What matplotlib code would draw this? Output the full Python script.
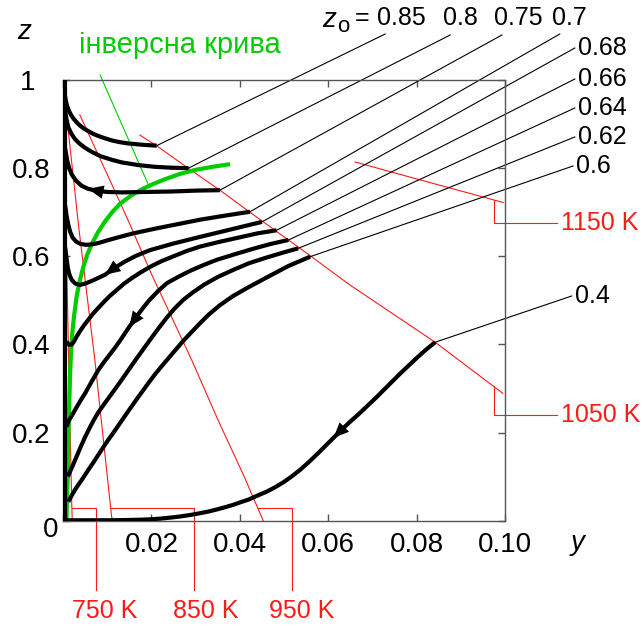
import numpy as np
import matplotlib.pyplot as plt

plt.rcParams['font.family'] = ['Liberation Sans', 'DejaVu Sans']

# trajectories; each starts on the 1050 K line
z0_labels = ['0.85', '0.8', '0.75', '0.7', '0.68', '0.66', '0.64', '0.62', '0.6', '0.4']

y_085 = [0.0212, 0.0180, 0.0148, 0.0128, 0.0110, 0.0094, 0.0080, 0.0068, 0.0057, 0.0047, 0.0038,
         0.0031, 0.0024, 0.0018, 0.0013, 0.0009, 0.0006, 0.0004, 0.0002]
z_085 = [0.851, 0.853, 0.856, 0.859, 0.863, 0.868, 0.873, 0.878, 0.884, 0.890, 0.897,
         0.904, 0.912, 0.921, 0.931, 0.942, 0.955, 0.968, 0.985]

y_080 = [0.0284, 0.0245, 0.0208, 0.0170, 0.0133, 0.0110, 0.0085, 0.0065, 0.0050, 0.0037,
         0.0027, 0.0019, 0.0012, 0.0008, 0.0005, 0.0003]
z_080 = [0.800, 0.801, 0.803, 0.807, 0.813, 0.819, 0.827, 0.837, 0.846, 0.856,
         0.866, 0.878, 0.893, 0.910, 0.930, 0.950]

y_075 = [0.0355, 0.0300, 0.0246, 0.0190, 0.0133, 0.0100, 0.0080, 0.0057, 0.0042, 0.0030,
         0.0020, 0.0014, 0.0010, 0.0007, 0.0004]
z_075 = [0.750, 0.749, 0.747, 0.746, 0.745, 0.746, 0.748, 0.753, 0.760, 0.771,
         0.785, 0.800, 0.815, 0.832, 0.850]

y_070 = [0.0423, 0.0365, 0.0310, 0.0260, 0.0210, 0.0159, 0.0125, 0.0100, 0.0080, 0.0065,
         0.0052, 0.0040, 0.0030, 0.0022, 0.0016, 0.0012, 0.0008, 0.0005]
z_070 = [0.701, 0.692, 0.683, 0.673, 0.663, 0.652, 0.643, 0.636, 0.630, 0.627,
         0.626, 0.628, 0.633, 0.642, 0.656, 0.672, 0.692, 0.715]

y_068 = [0.0450, 0.0380, 0.0310, 0.0250, 0.0197, 0.0165, 0.0140, 0.0114, 0.0095, 0.0080,
         0.0065, 0.0050, 0.0038, 0.0028, 0.0020, 0.0015, 0.0011, 0.0008, 0.0005]
z_068 = [0.678, 0.661, 0.644, 0.629, 0.614, 0.601, 0.588, 0.572, 0.558, 0.551,
         0.544, 0.538, 0.535, 0.538, 0.546, 0.557, 0.573, 0.595, 0.620]

y_066 = [0.0483, 0.0440, 0.0400, 0.0355, 0.0310, 0.0280, 0.0250, 0.0223, 0.0197, 0.0175,
         0.0155, 0.0137, 0.0121, 0.0106, 0.0093, 0.0080, 0.0069, 0.0058, 0.0048, 0.0039,
         0.0031, 0.0025, 0.0020, 0.0014, 0.0008]
z_066 = [0.659, 0.652, 0.643, 0.633, 0.622, 0.612, 0.600, 0.589, 0.576, 0.563,
         0.550, 0.537, 0.523, 0.510, 0.497, 0.483, 0.471, 0.457, 0.444, 0.431,
         0.418, 0.407, 0.400, 0.399, 0.406]

y_064 = [0.0510, 0.0470, 0.0430, 0.0390, 0.0348, 0.0320, 0.0290, 0.0262, 0.0235, 0.0215,
         0.0195, 0.0182, 0.0170, 0.0160, 0.0150, 0.0140, 0.0130, 0.0118, 0.0105, 0.0092,
         0.0080, 0.0065, 0.0050, 0.0038, 0.0027, 0.0018, 0.0012, 0.0008]
z_064 = [0.637, 0.628, 0.617, 0.605, 0.592, 0.581, 0.568, 0.554, 0.539, 0.521,
         0.500, 0.484, 0.468, 0.454, 0.440, 0.425, 0.410, 0.393, 0.376, 0.359,
         0.342, 0.316, 0.289, 0.270, 0.251, 0.235, 0.225, 0.213]

y_062 = [0.0532, 0.0500, 0.0460, 0.0420, 0.0385, 0.0350, 0.0320, 0.0295, 0.0272, 0.0252,
         0.0235, 0.0218, 0.0201, 0.0183, 0.0165, 0.0149, 0.0133, 0.0118, 0.0105, 0.0092,
         0.0080, 0.0070, 0.0060, 0.0050, 0.0042, 0.0033, 0.0025, 0.0018, 0.0011]
z_062 = [0.618, 0.609, 0.597, 0.584, 0.569, 0.553, 0.536, 0.519, 0.501, 0.481,
         0.461, 0.439, 0.416, 0.391, 0.366, 0.343, 0.320, 0.299, 0.281, 0.263,
         0.246, 0.229, 0.210, 0.190, 0.172, 0.151, 0.132, 0.116, 0.100]

y_060 = [0.0559, 0.0510, 0.0461, 0.0420, 0.0385, 0.0355, 0.0330, 0.0308, 0.0289, 0.0272,
         0.0255, 0.0238, 0.0222, 0.0208, 0.0193, 0.0180, 0.0167, 0.0155, 0.0141, 0.0128,
         0.0115, 0.0102, 0.0090, 0.0079, 0.0068, 0.0057, 0.0048, 0.0040, 0.0033, 0.0027,
         0.0019, 0.0012]
z_060 = [0.599, 0.578, 0.552, 0.530, 0.510, 0.489, 0.468, 0.446, 0.426, 0.408,
         0.388, 0.368, 0.349, 0.332, 0.312, 0.294, 0.276, 0.259, 0.239, 0.220,
         0.201, 0.183, 0.165, 0.148, 0.131, 0.115, 0.101, 0.089, 0.079, 0.070,
         0.056, 0.043]

y_040 = [0.0842, 0.0820, 0.0800, 0.0781, 0.0762, 0.0743, 0.0725, 0.0706, 0.0687, 0.0668,
         0.0650, 0.0631, 0.0612, 0.0593, 0.0575, 0.0555, 0.0536, 0.0518, 0.0500, 0.0480,
         0.0461, 0.0440, 0.0420, 0.0402, 0.0385, 0.0368, 0.0350, 0.0330, 0.0310, 0.0288,
         0.0265, 0.0243, 0.0220, 0.0200, 0.0180, 0.0144, 0.0100, 0.0050, 0.0005]
z_040 = [0.405, 0.387, 0.369, 0.351, 0.333, 0.314, 0.296, 0.277, 0.259, 0.241,
         0.225, 0.207, 0.188, 0.169, 0.151, 0.132, 0.115, 0.101, 0.088, 0.076,
         0.066, 0.057, 0.048, 0.042, 0.036, 0.031, 0.026, 0.021, 0.017, 0.013,
         0.0096, 0.007, 0.0047, 0.0033, 0.0024, 0.0015, 0.001, 0.001, 0.001]

curves_y = [y_085, y_080, y_075, y_070, y_068, y_066, y_064, y_062, y_060, y_040]
curves_z = [z_085, z_080, z_075, z_070, z_068, z_066, z_064, z_062, z_060, z_040]

# index of the point where an arrow head sits
arrow_at = {'0.75': 7, '0.68': 8, '0.64': 14, '0.4': 12}

# trajectory running along the z axis
y_axis_path = [0.0004, 0.0004]
z_axis_path = [0.0, 0.995]

# inversion curve
y_inv = [0.0008, 0.0009, 0.0011, 0.0012, 0.0014, 0.0016, 0.0018, 0.0021, 0.0025, 0.0031,
         0.0038, 0.0046, 0.0055, 0.0065, 0.0080, 0.0095, 0.0112, 0.0130, 0.0153, 0.0178,
         0.0204, 0.0231, 0.0265, 0.0299, 0.0338, 0.0378]
z_inv = [0.0, 0.05, 0.108, 0.180, 0.259, 0.330, 0.380, 0.425, 0.465, 0.510,
         0.545, 0.576, 0.604, 0.628, 0.656, 0.679, 0.701, 0.720, 0.737, 0.752,
         0.764, 0.775, 0.787, 0.796, 0.803, 0.809]

# isotherms
iso_labels = ['750 K', '850 K', '950 K', '1050 K', '1150 K']
y_750 = [0.0002, 0.0008, 0.0014, 0.0020, 0.0021]
z_750 = [0.966, 0.600, 0.300, 0.029, 0.0]
y_850 = [0.0008, 0.0035, 0.0072, 0.0110, 0.0113]
z_850 = [0.921, 0.671, 0.365, 0.009, 0.0]
y_950 = [0.0038, 0.0106, 0.0152, 0.0200, 0.0291, 0.0350, 0.0410, 0.0453]
z_950 = [0.921, 0.773, 0.671, 0.560, 0.365, 0.230, 0.100, 0.0]
y_1050 = [0.0174, 0.0213, 0.0283, 0.0355, 0.0423, 0.0561, 0.0649, 0.0842, 0.0995]
z_1050 = [0.875, 0.850, 0.800, 0.750, 0.700, 0.600, 0.535, 0.405, 0.289]
y_1150 = [0.0661, 0.0740, 0.0868, 0.0996]
z_1150 = [0.814, 0.792, 0.757, 0.722]

# where the z0 labels sit (outside the plot, data units)
lab_y = [0.0729, 0.0876, 0.0993, 0.1124, 0.1158, 0.1158, 0.1158, 0.1158, 0.1154, 0.1151]
lab_z = [1.1044, 1.1021, 1.1021, 1.1044, 1.0726, 1.0023, 0.9365, 0.8707, 0.8049, 0.5099]
top_text_y = [0.0710, 0.0860, 0.0975, 0.1106]

fig = plt.figure(figsize=(6.43, 6.26), dpi=100)
ax = fig.add_axes([63 / 643, 1 - 520.7 / 626, 442 / 643, 440.7 / 626])
ax.set_xlim(0, 0.1)
ax.set_ylim(0, 1)

fs = 18
tfs = 20
red = '#ff1a1a'
green = '#00cc00'

# isotherms
for yy, zz in [(y_750, z_750), (y_850, z_850), (y_950, z_950), (y_1050, z_1050), (y_1150, z_1150)]:
    ax.plot(yy, zz, color=red, lw=0.8, clip_on=False)

# bottom isotherm labels with bracket leaders
zb = 0.0281
bottom_iso = [(y_750, z_750, 0.0074, 0.0094), (y_850, z_850, 0.0297, 0.0322),
              (y_950, z_950, 0.0519, 0.0541)]
for (yy, zz, xv, xt), lab in zip(bottom_iso, iso_labels[:3]):
    start = np.interp(zb, zz[::-1], yy[::-1])
    ax.plot([start, xv, xv], [zb, zb, -0.157], color=red, lw=0.8, clip_on=False)
    ax.text(xt, -0.205, lab, color=red, fontsize=fs, ha='center', va='center', clip_on=False)

# right isotherm labels
for yy, zz, zr, lab in [(y_1150, z_1150, 0.676, '1150 K'), (y_1050, z_1050, 0.240, '1050 K')]:
    zs = np.interp(0.0974, yy, zz)
    ax.plot([0.0974, 0.0974, 0.1117], [zs, zr, zr], color=red, lw=0.8, clip_on=False)
    ax.text(0.1127, zr, lab, color=red, fontsize=fs, ha='left', va='center', clip_on=False)

# inversion curve
ax.plot(y_inv, z_inv, color=green, lw=3, solid_capstyle='butt', solid_joinstyle='round', zorder=3)
ax.plot([0.0084, 0.0195], [1.0113, 0.758], color=green, lw=0.8, clip_on=False)
ax.text(0.0265, 1.079, 'інверсна крива', color=green, fontsize=21,
        ha='center', va='center', clip_on=False)

# trajectories
ax.plot(y_axis_path, z_axis_path, color='black', lw=3, zorder=4)
for lab, yy, zz, ly, lz in zip(z0_labels, curves_y, curves_z, lab_y, lab_z):
    ax.plot(yy, zz, color='black', lw=3, zorder=4, solid_capstyle='butt', solid_joinstyle='round')
    ax.plot([yy[0], ly], [zz[0], lz], color='black', lw=0.8, clip_on=False)
    if lab in arrow_at:
        i = arrow_at[lab]
        ax.annotate('', xy=(yy[i], zz[i]), xytext=(yy[i - 1], zz[i - 1]),
                    arrowprops=dict(arrowstyle='-|>,head_length=0.55,head_width=0.24',
                                    mutation_scale=20, color='black', lw=0, shrinkA=0, shrinkB=0),
                    zorder=5)

# z0 labels
ax.text(0.0602, 1.1209, 'z', fontsize=20, style='italic', ha='center', va='baseline', clip_on=False)
ax.text(0.0635, 1.1096, 'o', fontsize=16, ha='center', va='baseline', clip_on=False)
ax.text(0.0676, 1.1407, '=', fontsize=fs, ha='center', va='center', clip_on=False)
for lab, xt in zip(z0_labels[:4], top_text_y):
    ax.text(xt, 1.1407, lab, fontsize=fs, ha='left', va='center', clip_on=False)
for lab, ly, lz in zip(z0_labels[4:], lab_y[4:], lab_z[4:]):
    ax.text(ly + 0.0007, lz, lab, fontsize=fs, ha='left', va='center', clip_on=False)

# axes styling
ax.set_xticks([0, 0.02, 0.04, 0.06, 0.08, 0.10])
ax.set_xticklabels(['', '0.02', '0.04', '0.06', '0.08', '0.10'], fontsize=tfs)
ax.set_yticks([0, 0.2, 0.4, 0.6, 0.8, 1.0])
ax.set_yticklabels(['', '0.2', '0.4', '0.6', '0.8', '1  '], fontsize=tfs)
ax.tick_params(direction='in', top=True, right=True, length=5, width=1,
               color='#555555', labelcolor='black')
ax.tick_params(axis='x', pad=8)
ax.tick_params(axis='y', pad=9)
for s in ax.spines.values():
    s.set_color('#555555')
    s.set_linewidth(1)
ax.text(-0.0029, -0.021, '0', fontsize=tfs, ha='center', va='center', clip_on=False)
ax.text(-0.0088, 1.109, 'z', fontsize=tfs, style='italic', ha='center', va='center', clip_on=False)
ax.text(0.1165, -0.0506, 'y', fontsize=tfs, style='italic', ha='center', va='center', clip_on=False)

fig.savefig('out.png', dpi=100)
